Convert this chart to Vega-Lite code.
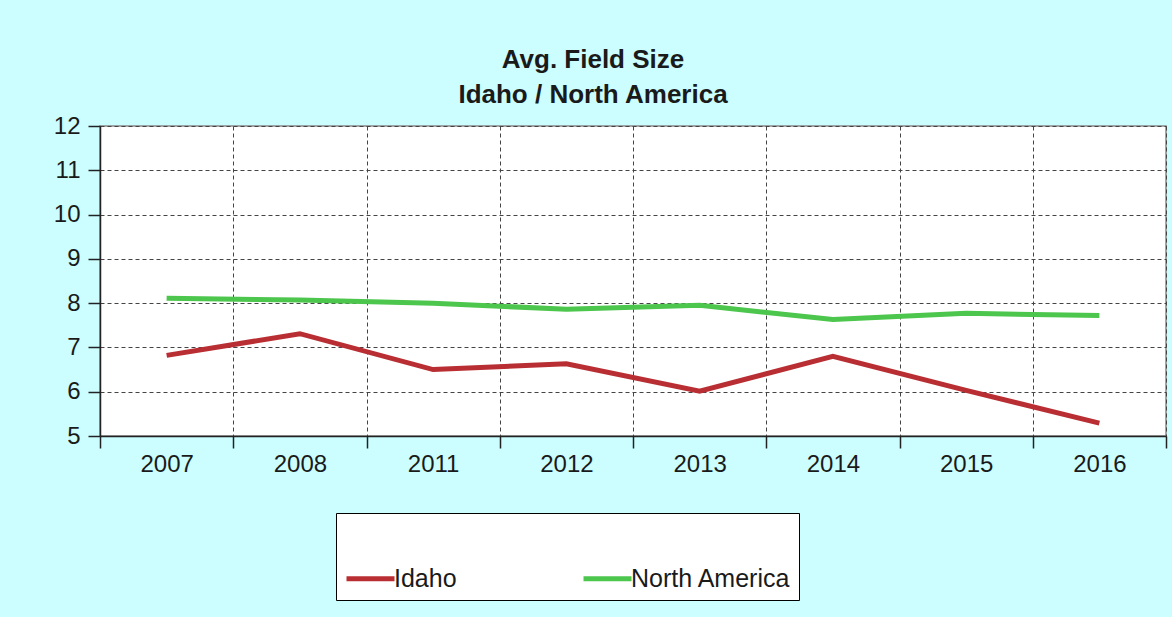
{
  "$schema": "https://vega.github.io/schema/vega-lite/v6.json",
  "autosize": {"type": "none"},
  "width": 1066,
  "height": 310,
  "padding": {"left": 100, "top": 126, "right": 6, "bottom": 181},
  "background": "#ccfeff",
  "title": {
    "text": ["Avg. Field Size", "Idaho / North America"],
    "font": "Liberation Sans",
    "fontSize": 26,
    "fontWeight": "bold",
    "color": "#1a1a1a",
    "lineHeight": 35,
    "anchor": "middle",
    "dx": -40,
    "offset": 6
  },
  "config": {
    "view": {"fill": "white", "stroke": "#888888", "strokeWidth": 1.5},
    "font": "Liberation Sans"
  },
  "data": {
    "values": [
      {"year": "2007", "series": "Idaho", "value": 6.82},
      {"year": "2008", "series": "Idaho", "value": 7.31},
      {"year": "2011", "series": "Idaho", "value": 6.50},
      {"year": "2012", "series": "Idaho", "value": 6.63},
      {"year": "2013", "series": "Idaho", "value": 6.01},
      {"year": "2014", "series": "Idaho", "value": 6.80},
      {"year": "2015", "series": "Idaho", "value": 6.03},
      {"year": "2016", "series": "Idaho", "value": 5.29},
      {"year": "2007", "series": "North America", "value": 8.11},
      {"year": "2008", "series": "North America", "value": 8.07},
      {"year": "2011", "series": "North America", "value": 8.00},
      {"year": "2012", "series": "North America", "value": 7.86},
      {"year": "2013", "series": "North America", "value": 7.95},
      {"year": "2014", "series": "North America", "value": 7.63},
      {"year": "2015", "series": "North America", "value": 7.77},
      {"year": "2016", "series": "North America", "value": 7.72}
    ]
  },
  "mark": {"type": "line", "strokeWidth": 5, "strokeCap": "butt"},
  "encoding": {
    "x": {
      "field": "year",
      "type": "ordinal",
      "bandPosition": 0.5,
      "scale": {"type": "band", "paddingInner": 0, "paddingOuter": 0},
      "axis": {
        "title": null,
        "labelAngle": 0,
        "tickBand": "extent",
        "grid": true,
        "gridColor": "#444444",
        "gridDash": [4, 3],
        "gridWidth": 1,
        "domainColor": "#222222",
        "domainWidth": 1.5,
        "tickColor": "#222222",
        "tickWidth": 1.5,
        "tickSize": 12,
        "labelFontSize": 24,
        "labelColor": "#1a1a1a",
        "labelPadding": 4
      }
    },
    "y": {
      "field": "value",
      "type": "quantitative",
      "scale": {"domain": [5, 12], "nice": false, "zero": false},
      "axis": {
        "title": null,
        "values": [5, 6, 7, 8, 9, 10, 11, 12],
        "grid": true,
        "gridColor": "#444444",
        "gridDash": [4, 3],
        "gridWidth": 1,
        "domainColor": "#222222",
        "domainWidth": 1.5,
        "tickColor": "#222222",
        "tickWidth": 1.5,
        "tickSize": 12,
        "labelFontSize": 24,
        "labelColor": "#1a1a1a",
        "labelPadding": 8
      }
    },
    "color": {
      "field": "series",
      "type": "nominal",
      "scale": {"domain": ["Idaho", "North America"], "range": ["#b82e33", "#4cc64c"]},
      "legend": {
        "orient": "none",
        "legendX": 236,
        "legendY": 387,
        "direction": "horizontal",
        "fillColor": "white",
        "strokeColor": "black",
        "padding": 8,
        "title": " ",
        "titleFontSize": 25,
        "titlePadding": 6,
        "titleLimit": 1000,
        "symbolType": "stroke",
        "symbolSize": 2304,
        "symbolStrokeWidth": 5,
        "labelFontSize": 25,
        "labelColor": "#1a1a1a",
        "labelOffset": -3,
        "labelLimit": 1000,
        "labelExpr": "datum.label == 'North America' ? datum.label + '\u2003\u2004' : datum.label",
        "columnPadding": 116
      }
    }
  }
}
